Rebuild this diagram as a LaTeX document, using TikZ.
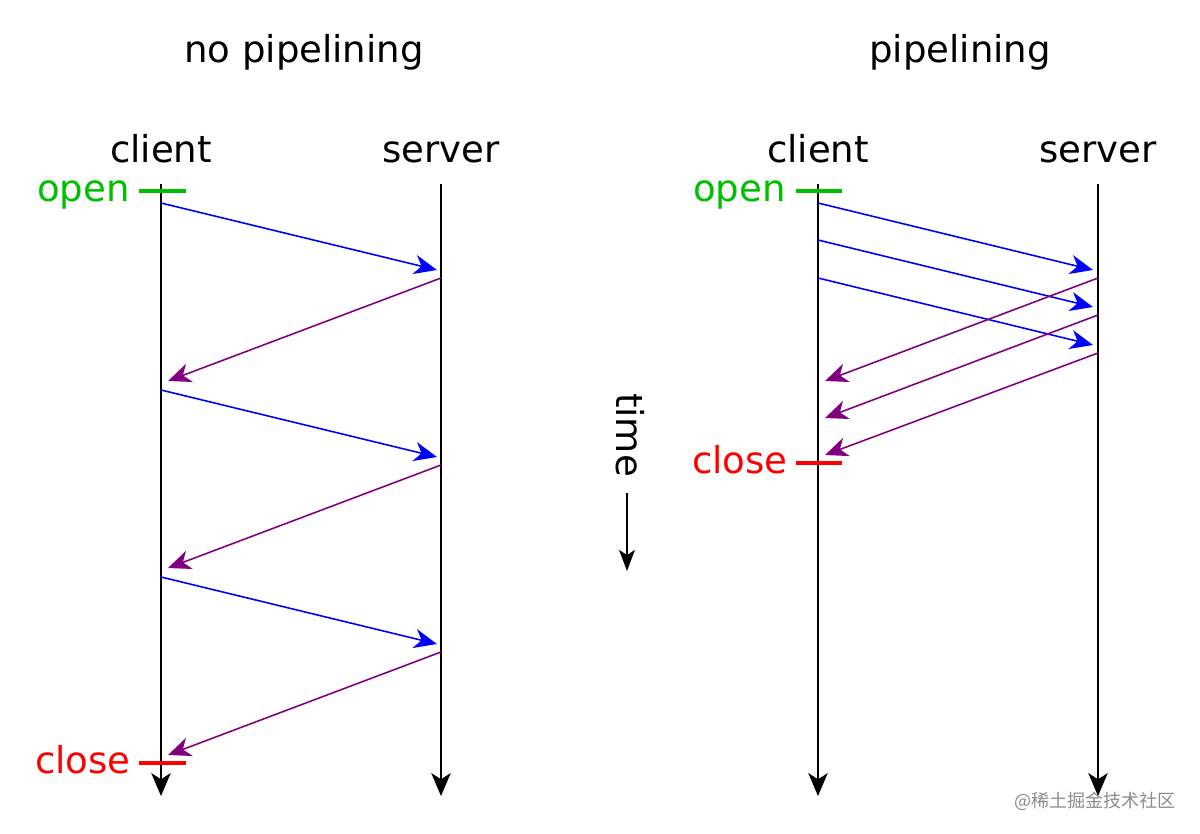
\documentclass[tikz,border=0pt]{standalone}
\usepackage{fontspec}
\setmainfont{DejaVu Sans}
\newfontfamily\cjk{Noto Sans CJK SC}
\usetikzlibrary{arrows.meta}
\definecolor{okgreen}{RGB}{0,190,0}
\definecolor{msgpurple}{RGB}{128,0,128}
\tikzset{
  lbl/.style={font=\fontsize{21.1}{24}\selectfont, inner sep=0pt, anchor=base},
  life/.style={black, line width=1.3pt, -{Stealth[length=13pt,width=11pt,inset=3.5pt]}},
  req/.style={blue, line width=0.9pt, -{Stealth[length=13pt,width=11pt,inset=4pt]}},
  resp/.style={msgpurple, line width=0.9pt, -{Stealth[length=13pt,width=11pt,inset=4pt]}},
  tickopen/.style={okgreen, line width=2pt},
  tickclose/.style={red, line width=2pt},
}
\begin{document}
\begin{tikzpicture}[x=0.02cm,y=-0.02cm]
\useasboundingbox (0,0) rectangle (1200,834);
% titles
\node[lbl] (t1) at (304,63) {no pipelining};
\node[lbl] (t2) at (960,63) {pipelining};
% headers
\node[lbl] (c1) at (161,163) {client};
\node[lbl] (s1) at (441,163) {server};
\node[lbl] (c2) at (818,163) {client};
\node[lbl] (s2) at (1098,163) {server};
% lifelines
\coordinate (c1t) at (161,184); \coordinate (c1b) at (161,796);
\coordinate (s1t) at (441,184); \coordinate (s1b) at (441,796);
\coordinate (c2t) at (818,184); \coordinate (c2b) at (818,796);
\coordinate (s2t) at (1098,184); \coordinate (s2b) at (1098,796);
\draw[life] (c1t) -- (c1b);
\draw[life] (s1t) -- (s1b);
\draw[life] (c2t) -- (c2b);
\draw[life] (s2t) -- (s2b);
% open / close left
\coordinate (o1a) at (139,191); \coordinate (o1b) at (186,191);
\draw[tickopen] (o1a) -- (o1b);
\node[lbl, text=okgreen, anchor=base east] (open1) at (130,202) {open};
\coordinate (x1a) at (139,763); \coordinate (x1b) at (186,763);
\draw[tickclose] (x1a) -- (x1b);
\node[lbl, text=red, anchor=base east] (close1) at (131,773) {close};
% open / close right
\coordinate (o2a) at (796,191); \coordinate (o2b) at (842,191);
\draw[tickopen] (o2a) -- (o2b);
\node[lbl, text=okgreen, anchor=base east] (open2) at (786,202) {open};
\coordinate (x2a) at (796,463); \coordinate (x2b) at (842,463);
\draw[tickclose] (x2a) -- (x2b);
\node[lbl, text=red, anchor=base east] (close2) at (788,473) {close};
% left messages
\coordinate (a1) at (161,203); \coordinate (a2) at (437,270);
\coordinate (b1) at (441,278); \coordinate (b2) at (168,381);
\coordinate (a3) at (161,390); \coordinate (a4) at (437,457);
\coordinate (b3) at (441,465); \coordinate (b4) at (168,568);
\coordinate (a5) at (161,577); \coordinate (a6) at (437,644);
\coordinate (b5) at (441,652); \coordinate (b6) at (168,755);
\draw[req] (a1) -- (a2);
\draw[resp] (b1) -- (b2);
\draw[req] (a3) -- (a4);
\draw[resp] (b3) -- (b4);
\draw[req] (a5) -- (a6);
\draw[resp] (b5) -- (b6);
% right messages
\coordinate (p1) at (818,203); \coordinate (p2) at (1093,270);
\coordinate (p3) at (818,240); \coordinate (p4) at (1093,307);
\coordinate (p5) at (818,278); \coordinate (p6) at (1093,345);
\coordinate (q1) at (1098,278); \coordinate (q2) at (825,381);
\coordinate (q3) at (1098,315); \coordinate (q4) at (825,418);
\coordinate (q5) at (1098,353); \coordinate (q6) at (825,455);
\draw[req] (p1) -- (p2);
\draw[req] (p3) -- (p4);
\draw[req] (p5) -- (p6);
\draw[resp] (q1) -- (q2);
\draw[resp] (q3) -- (q4);
\draw[resp] (q5) -- (q6);
% time
\node[lbl, rotate=-90] (time) at (616,435) {time};
\coordinate (ta) at (627,493); \coordinate (tb) at (627,571);
\draw[black, line width=1pt, -{Stealth[length=12pt,width=9pt,inset=3pt]}] (ta) -- (tb);
% watermark
\node[inner sep=0pt, text=black!45, font=\cjk\fontsize{10.3}{12}\selectfont] (wm) at (1095,801) {@稀土掘金技术社区};
\end{tikzpicture}
\end{document}
